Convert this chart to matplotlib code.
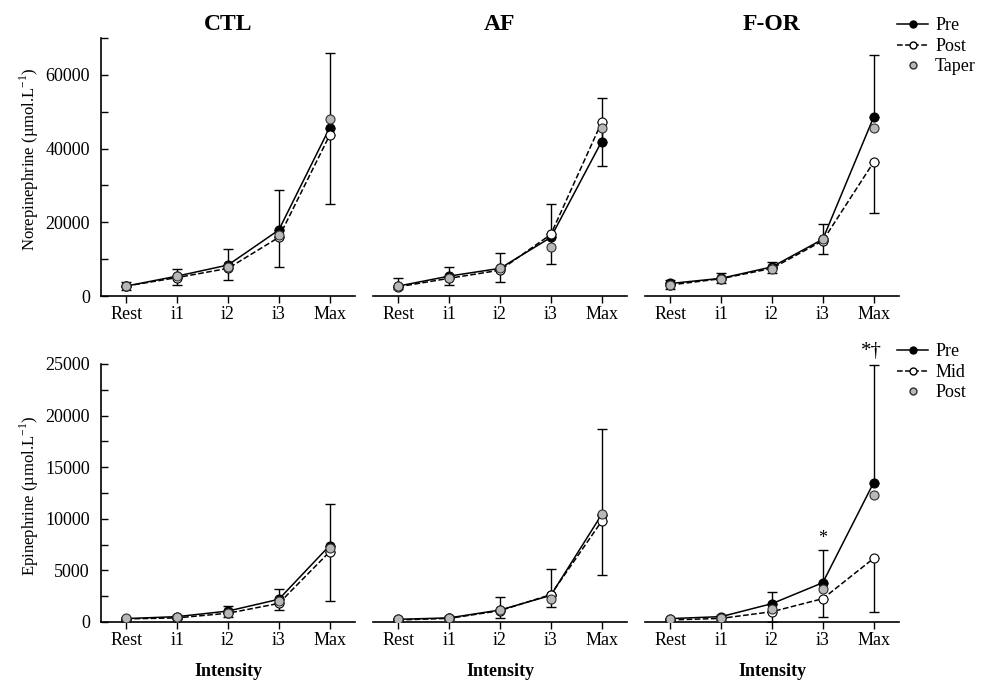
"""
Catecholamine response to incremental exercise, CTL / AF / F-OR groups.
"""

import matplotlib
matplotlib.use("Agg")
import matplotlib.pyplot as plt
from matplotlib.lines import Line2D
from matplotlib.ticker import MultipleLocator

plt.rcParams["font.family"] = ["Liberation Serif", "DejaVu Serif"]
plt.rcParams["mathtext.fontset"] = "custom"
plt.rcParams["mathtext.rm"] = "Liberation Serif"

stages = ["Rest", "i1", "i2", "i3", "Max"]
groups = ["CTL", "AF", "F-OR"]

# Norepinephrine (top row)
ne_ctl_pre = [2700, 5400, 8400, 17900, 45600]
ne_ctl_post = [2700, 5000, 7500, 15900, 43600]
ne_ctl_taper = [2800, 5300, 8000, 16500, 48100]
ne_ctl_pre_sd = [1200, 1800, 4300, 10900, 20400]
ne_ctl_post_sd = [1100, 2000, 3200, 8000, 18700]

ne_af_pre = [2700, 5400, 7500, 15900, 41900]
ne_af_post = [2500, 4800, 7000, 16700, 47100]
ne_af_taper = [2700, 5000, 7500, 13300, 45500]
ne_af_pre_sd = [2100, 2500, 4300, 9100, 11700]
ne_af_post_sd = [700, 1800, 3100, 8100, 11700]

ne_for_pre = [3400, 4800, 7900, 15400, 48500]
ne_for_post = [3000, 4700, 7500, 15000, 36300]
ne_for_taper = [3000, 4600, 7400, 15600, 45500]
ne_for_pre_sd = [900, 1500, 1200, 4100, 16800]
ne_for_post_sd = [1200, 1300, 1200, 3500, 13700]

# Epinephrine (bottom row)
ep_ctl_pre = [330, 520, 1060, 2200, 7400]
ep_ctl_post = [300, 400, 850, 1800, 6800]
ep_ctl_taper = [350, 450, 850, 2000, 7200]
ep_ctl_pre_sd = [200, 150, 490, 1000, 4000]
ep_ctl_post_sd = [200, 150, 350, 670, 4750]

ep_af_pre = [260, 400, 1160, 2580, 10400]
ep_af_post = [200, 350, 1100, 2650, 9750]
ep_af_taper = [250, 400, 1200, 2200, 10500]
ep_af_pre_sd = [100, 150, 1260, 2590, 8320]
ep_af_post_sd = [100, 150, 700, 1160, 5230]

ep_for_pre = [330, 520, 1780, 3810, 13490]
ep_for_post = [200, 350, 1000, 2260, 6160]
ep_for_taper = [250, 400, 1230, 3230, 12260]
ep_for_pre_sd = [100, 150, 1160, 3130, 11390]
ep_for_post_sd = [100, 150, 1000, 1770, 5160]

ne_panels = [
    (ne_ctl_pre, ne_ctl_post, ne_ctl_taper, ne_ctl_pre_sd, ne_ctl_post_sd),
    (ne_af_pre, ne_af_post, ne_af_taper, ne_af_pre_sd, ne_af_post_sd),
    (ne_for_pre, ne_for_post, ne_for_taper, ne_for_pre_sd, ne_for_post_sd),
]
ep_panels = [
    (ep_ctl_pre, ep_ctl_post, ep_ctl_taper, ep_ctl_pre_sd, ep_ctl_post_sd),
    (ep_af_pre, ep_af_post, ep_af_taper, ep_af_pre_sd, ep_af_post_sd),
    (ep_for_pre, ep_for_post, ep_for_taper, ep_for_pre_sd, ep_for_post_sd),
]

GRAY = "#b8b8b8"
W, H = 984, 681


def draw_panel(ax, pre, post, taper, pre_sd, post_sd):
    x = list(range(len(stages)))
    ax.errorbar(x, pre, yerr=[[0] * len(pre), pre_sd], fmt="none",
                ecolor="black", elinewidth=1, capsize=3.5, capthick=1, zorder=2)
    ax.errorbar(x, post, yerr=[post_sd, [0] * len(post)], fmt="none",
                ecolor="black", elinewidth=1, capsize=3.5, capthick=1, zorder=2)
    ax.plot(x, pre, "-", color="black", lw=1.1, marker="o", ms=6.5,
            mfc="black", mec="black", mew=0.8, zorder=3)
    ax.plot(x, post, "--", color="black", lw=1.1, marker="o", ms=6.5,
            mfc="white", mec="black", mew=0.8, zorder=4)
    ax.plot(x, taper, "none", marker="o", ms=6.5,
            mfc=GRAY, mec="#303030", mew=0.8, zorder=5)

    ax.set_xlim(-0.5, 4.5)
    ax.set_xticks(x)
    ax.set_xticklabels(stages, fontsize=13)
    ax.spines["top"].set_visible(False)
    ax.spines["right"].set_visible(False)
    ax.spines["bottom"].set_linewidth(1.2)
    ax.spines["left"].set_linewidth(1.2)
    ax.tick_params(axis="x", direction="out", length=5, width=1, pad=2)
    ax.tick_params(axis="y", which="both", direction="in", length=5,
                   width=1, labelsize=13, pad=8)


def axes_rect(left_px, bottom_px):
    return [left_px / W, (H - bottom_px) / H, 254 / W, 258 / H]


fig = plt.figure(figsize=(9.84, 6.81), dpi=100)

lefts = [101, 373, 645]
top_axes = []
bot_axes = []
for i, left in enumerate(lefts):
    ax = fig.add_axes(axes_rect(left, 296))
    draw_panel(ax, *ne_panels[i])
    ax.set_ylim(0, 70000)
    ax.yaxis.set_major_locator(MultipleLocator(20000))
    ax.yaxis.set_minor_locator(MultipleLocator(10000))
    ax.set_title(groups[i], fontsize=17, fontweight="bold", pad=6)
    top_axes.append(ax)

    ax2 = fig.add_axes(axes_rect(left, 622))
    draw_panel(ax2, *ep_panels[i])
    ax2.set_ylim(0, 25000)
    ax2.yaxis.set_major_locator(MultipleLocator(5000))
    ax2.yaxis.set_minor_locator(MultipleLocator(2500))
    ax2.set_xlabel("Intensity", fontsize=13, fontweight="bold", labelpad=10)
    bot_axes.append(ax2)

    if i > 0:
        for a in (ax, ax2):
            a.spines["left"].set_visible(False)
            a.tick_params(axis="y", which="both", left=False, labelleft=False)

top_axes[0].set_ylabel(r"Norepinephrine (µmol.L$^{\mathregular{-1}}$)", fontsize=12)
bot_axes[0].set_ylabel(r"Epinephrine (µmol.L$^{\mathregular{-1}}$)", fontsize=12)
top_axes[0].yaxis.set_label_coords(-0.235, 0.53)
bot_axes[0].yaxis.set_label_coords(-0.235, 0.49)

# significance marks in F-OR epinephrine
bot_axes[2].text(3, 7300, "*", ha="center", va="bottom", fontsize=13)
bot_axes[2].text(3.95, 25300, "*†", ha="center", va="bottom", fontsize=15,
                 clip_on=False)


def legend_handles(labels):
    return [
        Line2D([], [], color="black", lw=1.1, marker="o", ms=5,
               mfc="black", mec="black", label=labels[0]),
        Line2D([], [], color="black", lw=1.1, ls="--", marker="o", ms=5,
               mfc="white", mec="black", label=labels[1]),
        Line2D([], [], ls="none", marker="o", ms=5, mfc=GRAY,
               mec="#303030", label=labels[2]),
    ]


leg_kw = dict(frameon=False, fontsize=13, handlelength=1.7, handletextpad=0.4,
              labelspacing=0.2, borderaxespad=0, loc="upper left")
fig.legend(handles=legend_handles(["Pre", "Post", "Taper"]),
           bbox_to_anchor=(890 / W, 1 - 10 / H), **leg_kw)
fig.legend(handles=legend_handles(["Pre", "Mid", "Post"]),
           bbox_to_anchor=(890 / W, 1 - 336 / H), **leg_kw)

fig.savefig("out.png", dpi=100)
